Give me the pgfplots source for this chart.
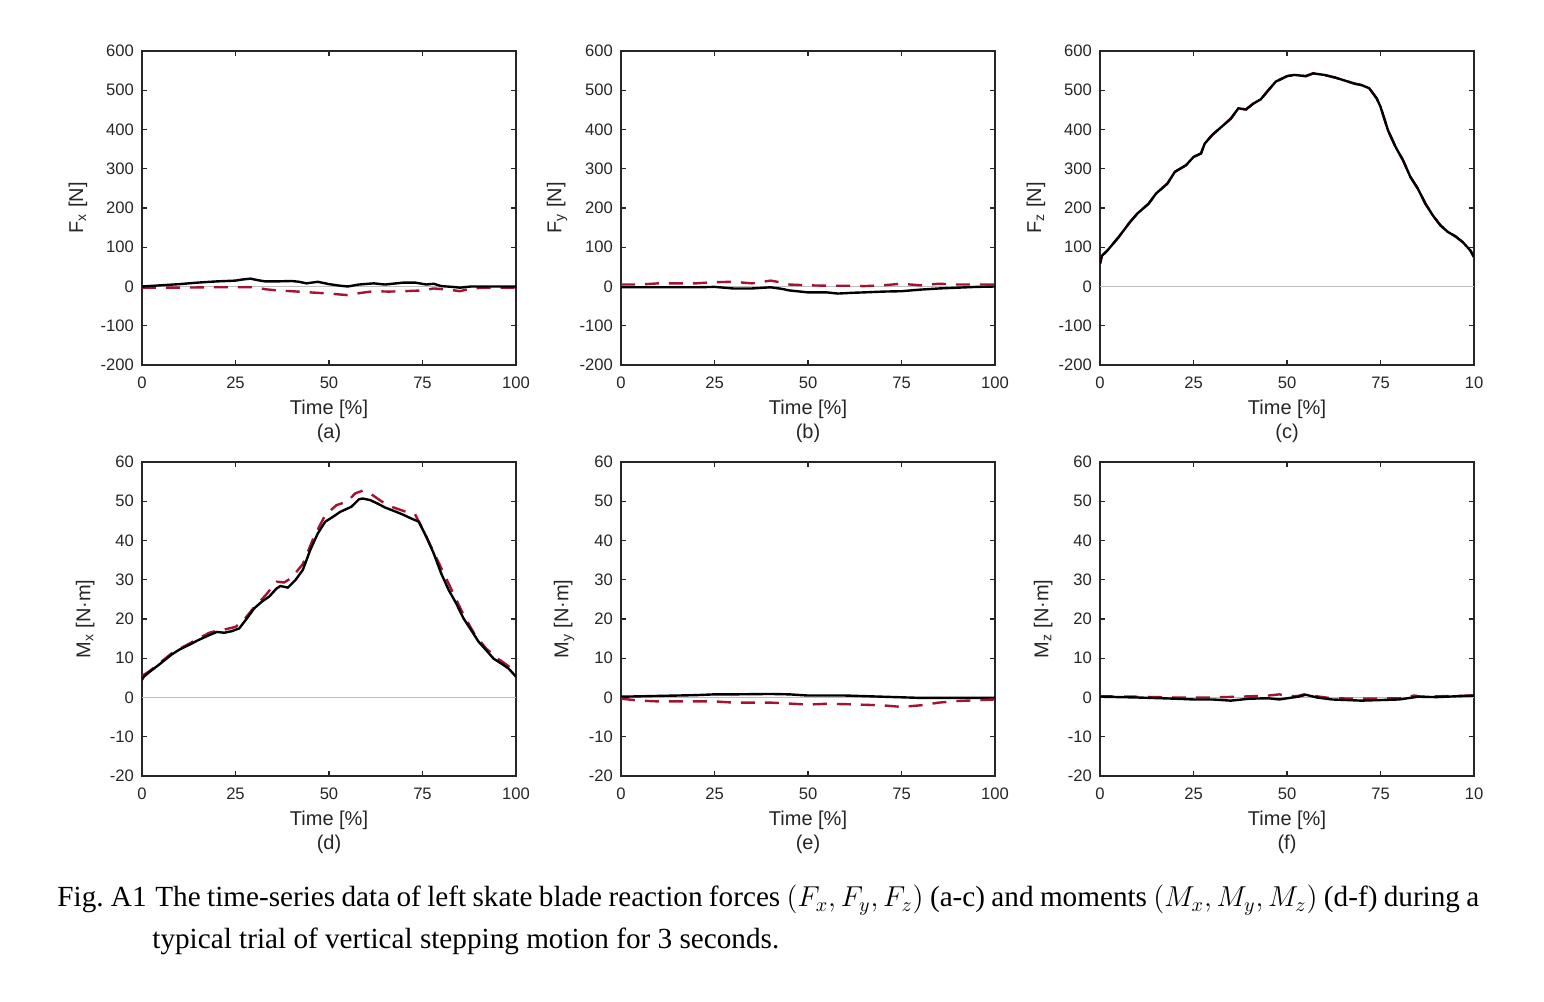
\documentclass[border=0pt]{standalone}
\usepackage{fontspec}
\setmainfont{Liberation Sans}
\newfontfamily\capfont{Liberation Serif}
\usepackage{pgfplots}
\pgfplotsset{compat=1.18}
\definecolor{axgray}{RGB}{38,38,38}
\definecolor{mred}{RGB}{162,20,47}
\definecolor{zgray}{RGB}{190,190,190}
\pgfplotsset{
  sk/.style={
    scale only axis, width=187pt, height=157pt,
    xmin=0, xmax=100, xtick={0,25,50,75,100},
    axis line style={draw=axgray, line width=0.7pt},
    major tick style={draw=axgray, line width=0.6pt},
    major tick length=2.5pt,
    tick align=inside,
    ticklabel style={font=\fontsize{8.3}{10}\selectfont, text=axgray},
    xticklabel style={yshift=-2.5pt},
    yticklabel style={xshift=-0.5pt},
    label style={font=\fontsize{10}{12}\selectfont, text=axgray},
    xlabel style={align=center, at={(axis description cs:0.5,0)}, anchor=north, inner sep=0pt, yshift=-17.5pt},
  },
  rowF/.style={ymin=-200, ymax=600, ytick={-200,-100,0,100,200,300,400,500,600},
    yticklabels={-200,-100,0,100,200,300,400,500,600},
    ylabel style={at={(axis description cs:-0.171,0.5)}, anchor=center}},
  rowM/.style={ymin=-20, ymax=60, ytick={-20,-10,0,10,20,30,40,50,60},
    yticklabels={-20,-10,0,10,20,30,40,50,60},
    ylabel style={at={(axis description cs:-0.152,0.5)}, anchor=center}},
  zl/.style={zgray, line width=0.6pt, forget plot},
  bl/.style={black, line width=1.2pt, no marks},
  rd/.style={mred, line width=1.2pt, no marks, dash pattern=on 7pt off 5pt},
}
\begin{document}
\begin{tikzpicture}
\path[use as bounding box] (0,0) rectangle (772pt,501pt);
% (a)
\begin{axis}[sk, rowF, at={(71pt,318.5pt)}, anchor=south west,
  xticklabels={0,25,50,75,100}, xlabel={Time [\%]\\(a)}, ylabel={F\textsubscript{x} [N]}]
\addplot[zl] coordinates {(0,0)(100,0)};
\addplot[rd] coordinates {(0,-3)(5,-3)(10,-3)(18,-2)(25,-2)(30,-2)(33,-7)(36,-10)(40,-12)(45,-15)(50,-18)(55,-22)(58,-17)(62,-12)(66,-13)(70,-12)(75,-10)(78,-5)(82,-8)(85,-12)(88,-5)(92,-3)(100,-3)};
\addplot[bl] coordinates {(0,0)(5,3)(10,6)(15,10)(20,13)(25,15)(27,18)(29,20)(31,16)(33,13)(36,13)(40,14)(42,12)(44,8)(47,12)(50,6)(53,2)(55,0)(58,5)(62,8)(65,5)(70,10)(73,10)(76,5)(78,7)(80,1)(83,-1)(85,-3)(88,0)(92,0)(96,0)(100,0)};
\end{axis}
% (b)
\begin{axis}[sk, rowF, at={(310.5pt,318.5pt)}, anchor=south west,
  xticklabels={0,25,50,75,100}, xlabel={Time [\%]\\(b)}, ylabel={F\textsubscript{y} [N]}]
\addplot[zl] coordinates {(0,0)(100,0)};
\addplot[bl] coordinates {(0,-2)(10,-2)(20,-2)(25,-1)(30,-5)(35,-5)(40,-2)(43,-6)(45,-10)(50,-15)(55,-15)(58,-18)(62,-16)(65,-15)(70,-13)(75,-12)(80,-8)(85,-5)(90,-3)(95,-1)(100,0)};
\addplot[rd] coordinates {(0,5)(5,5)(10,8)(20,8)(25,11)(30,12)(35,8)(40,15)(43,10)(45,5)(50,3)(55,2)(60,2)(65,1)(70,3)(75,7)(80,3)(85,7)(90,5)(95,5)(100,5)};
\end{axis}
% (c)
\begin{axis}[sk, rowF, at={(550pt,318.5pt)}, anchor=south west,
  xticklabels={0,25,50,75,10}, xlabel={Time [\%]\\(c)}, ylabel={F\textsubscript{z} [N]}]
\addplot[zl] coordinates {(0,0)(100,0)};
\addplot[rd] coordinates {(0,58)(0.5,78)(2,92)(5,126)(8,164)(10,186)(13,211)(15,237)(18,262)(20,292)(23,309)(25,330)(27,339)(28,364)(30,386)(33,411)(35,428)(37,454)(39,451)(41,466)(43,477)(45,500)(47,522)(50,536)(52,539)(55,536)(57,543)(60,539)(63,532)(65,526)(68,517)(70,513)(72,505)(74,479)(75,458)(76,428)(77,398)(79,356)(81,322)(83,279)(85,249)(87,211)(89,181)(91,156)(93,139)(95,128)(97,113)(99,92)(100,75)};
\addplot[bl] coordinates {(0,58)(0.5,78)(2,92)(5,126)(8,164)(10,186)(13,211)(15,237)(18,262)(20,292)(23,309)(25,330)(27,339)(28,364)(30,386)(33,411)(35,428)(37,454)(39,451)(41,466)(43,477)(45,500)(47,522)(50,536)(52,539)(55,536)(57,543)(60,539)(63,532)(65,526)(68,517)(70,513)(72,505)(74,479)(75,458)(76,428)(77,398)(79,356)(81,322)(83,279)(85,249)(87,211)(89,181)(91,156)(93,139)(95,128)(97,113)(99,92)(100,75)};
\end{axis}
% (d)
\begin{axis}[sk, rowM, at={(71pt,113pt)}, anchor=south west,
  xticklabels={0,25,50,75,100}, xlabel={Time [\%]\\(d)}, ylabel={M\textsubscript{x} [N·m]}]
\addplot[zl] coordinates {(0,0)(100,0)};
\addplot[rd] coordinates {(0,5.5)(2,6.7)(5,9)(8,11.3)(10,12.4)(13,13.9)(15,15)(18,16.5)(20,17)(22,17.3)(25,18)(27,19.5)(30,23)(33,26)(36,29.5)(38,29.3)(40,30.5)(43,34)(46,41)(49,46.5)(52,49)(55,50)(57,52)(59,52.7)(61,52)(64,50)(67,48.5)(70,47.5)(73,46.7)(75,43)(77,39)(80,33)(83,27)(86,21)(89,16)(92,12.5)(95,10)(98,8)(100,5.5)};
\addplot[bl] coordinates {(0,4.5)(0.5,5.3)(2,6.5)(5,8.7)(8,11)(10,12.2)(13,13.6)(15,14.6)(18,15.9)(20,16.7)(22,16.5)(24,16.9)(26,17.6)(28,20.1)(30,22.7)(32,24.4)(34,25.7)(36,27.8)(37,28.4)(39,28)(41,29.9)(43,32.5)(45,37.6)(47,41.8)(49,44.8)(51,46)(53,47.3)(56,48.6)(58,50.5)(59,50.7)(61,50.3)(63,49.4)(65,48.4)(68,47.3)(70,46.5)(72,45.6)(74,44.8)(76,41)(78,36.7)(80,31.6)(82,27.4)(84,24)(86,20.1)(88,17.2)(90,14.2)(92,12.1)(94,9.9)(96,8.7)(98,7.4)(100,5.3)};
\end{axis}
% (e)
\begin{axis}[sk, rowM, at={(310.5pt,113pt)}, anchor=south west,
  xticklabels={0,25,50,75,100}, xlabel={Time [\%]\\(e)}, ylabel={M\textsubscript{y} [N·m]}]
\addplot[zl] coordinates {(0,0)(100,0)};
\addplot[bl] coordinates {(0,0.2)(10,0.4)(20,0.6)(25,0.8)(30,0.8)(40,0.9)(45,0.8)(50,0.5)(60,0.5)(70,0.2)(80,-0.1)(90,-0.1)(100,-0.1)};
\addplot[rd] coordinates {(0,-0.3)(5,-0.8)(10,-1.0)(20,-1.0)(25,-1.0)(30,-1.3)(40,-1.3)(50,-1.8)(55,-1.6)(60,-1.7)(70,-2.0)(75,-2.4)(80,-2.0)(85,-1.3)(90,-0.9)(100,-0.5)};
\end{axis}
% (f)
\begin{axis}[sk, rowM, at={(550pt,113pt)}, anchor=south west,
  xticklabels={0,25,50,75,10}, xlabel={Time [\%]\\(f)}, ylabel={M\textsubscript{z} [N·m]}]
\addplot[zl] coordinates {(0,0)(100,0)};
\addplot[rd] coordinates {(0,0.3)(10,0.2)(20,0)(30,0)(40,0.3)(45,0.5)(48,0.8)(50,0.3)(53,0.4)(55,0.9)(58,0.3)(62,-0.2)(70,-0.3)(80,-0.2)(84,0.5)(86,0.2)(90,0.3)(100,0.5)};
\addplot[bl] coordinates {(0,0.2)(10,0)(20,-0.3)(25,-0.5)(30,-0.5)(35,-0.8)(40,-0.3)(45,-0.2)(48,-0.5)(50,-0.2)(53,0.2)(55,0.7)(58,0)(62,-0.5)(70,-0.8)(80,-0.5)(85,0.2)(90,0.1)(100,0.5)};
\end{axis}
% caption
\node[anchor=base west, inner sep=0pt, font=\capfont\fontsize{14.6}{17}\selectfont] at (28.5pt,47.5pt)
  {\hbox to 711pt{\makebox[49pt][l]{Fig.\ A1}The time-series data of left skate blade reaction forces $(F_x, F_y, F_z)$ (a-c) and moments $(M_x, M_y, M_z)$ (d-f) during a}};
\node[anchor=base west, inner sep=0pt, font=\capfont\fontsize{14.6}{17}\selectfont] at (76pt,26.5pt)
  {typical trial of vertical stepping motion for 3 seconds.};
\end{tikzpicture}
\end{document}
